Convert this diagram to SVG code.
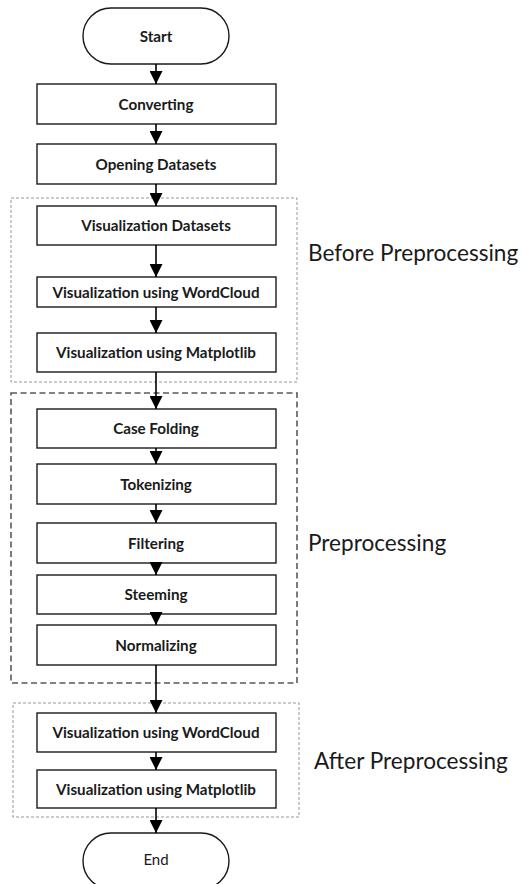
<svg xmlns="http://www.w3.org/2000/svg" width="522" height="884" viewBox="0 0 522 884">
  <style>
    .step { fill: #ffffff; stroke: #1a1a1a; stroke-width: 1.4; }
    .term { fill: #ffffff; stroke: #1a1a1a; stroke-width: 1.4; }
    .lbl { font-family: Lato, "Open Sans", "Liberation Sans", sans-serif; font-weight: bold; font-size: 15.2px; fill: #1a1a1a; text-anchor: middle; }
    .lbl-end { font-family: Lato, "Open Sans", "Liberation Sans", sans-serif; font-size: 15px; fill: #1a1a1a; text-anchor: middle; }
    .phase { font-family: Lato, "Open Sans", "Liberation Sans", sans-serif; font-size: 22.6px; fill: #1a1a1a; }
    .zone-thin { fill: none; stroke: #8a8a8a; stroke-width: 0.9; stroke-dasharray: 3 2; }
    .zone-bold { fill: none; stroke: #5a5a5a; stroke-width: 1.6; stroke-dasharray: 6 3.5; }
    .flow { fill: none; stroke: #000000; stroke-width: 1.6; marker-end: url(#head); }
  </style>
  <defs>
    <marker id="head" viewBox="0 0 13 13" refX="13" refY="6.5" markerWidth="13" markerHeight="13" markerUnits="userSpaceOnUse" orient="auto">
      <path d="M0,0 L13,6.5 L0,13 Z" fill="#000000"/>
    </marker>
  </defs>

  <!-- phase frames -->
  <g id="zones">
    <rect class="zone-thin" x="11" y="198" width="286" height="184"/>
    <rect class="zone-bold" x="11" y="393" width="286" height="290"/>
    <rect class="zone-thin" x="13" y="703" width="286" height="114"/>
  </g>

  <!-- phase captions -->
  <g id="captions">
    <text class="phase" x="308" y="261">Before Preprocessing</text>
    <text class="phase" x="308" y="551">Preprocessing</text>
    <text class="phase" x="314" y="769">After Preprocessing</text>
  </g>

  <!-- nodes -->
  <g id="start">
    <rect class="term" x="83" y="8" width="146" height="56" rx="28" ry="28"/>
    <text class="lbl" x="156" y="41.5">Start</text>
  </g>
  <g id="converting">
    <rect class="step" x="37" y="84" width="239" height="40"/>
    <text class="lbl" x="156" y="109.5">Converting</text>
  </g>
  <g id="opening">
    <rect class="step" x="37" y="144" width="239" height="40"/>
    <text class="lbl" x="156" y="169.5">Opening Datasets</text>
  </g>
  <g id="vis-datasets">
    <rect class="step" x="37" y="206" width="239" height="39"/>
    <text class="lbl" x="156" y="231">Visualization Datasets</text>
  </g>
  <g id="vis-wordcloud-1">
    <rect class="step" x="37" y="277" width="239" height="30"/>
    <text class="lbl" x="156" y="297.5">Visualization using WordCloud</text>
  </g>
  <g id="vis-matplotlib-1">
    <rect class="step" x="37" y="333" width="239" height="39"/>
    <text class="lbl" x="156" y="358">Visualization using Matplotlib</text>
  </g>
  <g id="case-folding">
    <rect class="step" x="37" y="409" width="239" height="39"/>
    <text class="lbl" x="156" y="434">Case Folding</text>
  </g>
  <g id="tokenizing">
    <rect class="step" x="37" y="464" width="239" height="40"/>
    <text class="lbl" x="156" y="489.5">Tokenizing</text>
  </g>
  <g id="filtering">
    <rect class="step" x="37" y="523" width="239" height="40"/>
    <text class="lbl" x="156" y="548.5">Filtering</text>
  </g>
  <g id="steeming">
    <rect class="step" x="37" y="575" width="239" height="39"/>
    <text class="lbl" x="156" y="600">Steeming</text>
  </g>
  <g id="normalizing">
    <rect class="step" x="37" y="625" width="239" height="40"/>
    <text class="lbl" x="156" y="650.5">Normalizing</text>
  </g>
  <g id="vis-wordcloud-2">
    <rect class="step" x="37" y="713" width="239" height="39"/>
    <text class="lbl" x="156" y="738">Visualization using WordCloud</text>
  </g>
  <g id="vis-matplotlib-2">
    <rect class="step" x="37" y="770" width="239" height="38"/>
    <text class="lbl" x="156" y="794.5">Visualization using Matplotlib</text>
  </g>
  <g id="end">
    <rect class="term" x="83" y="833" width="146" height="56" rx="28" ry="28"/>
    <text class="lbl-end" x="156" y="865">End</text>
  </g>

  <!-- connectors -->
  <g id="connectors">
    <line class="flow" x1="156" y1="64" x2="156" y2="84"/>
    <line class="flow" x1="156" y1="124" x2="156" y2="144"/>
    <line class="flow" x1="156" y1="184" x2="156" y2="206"/>
    <line class="flow" x1="156" y1="245" x2="156" y2="277"/>
    <line class="flow" x1="156" y1="307" x2="156" y2="333"/>
    <line class="flow" x1="156" y1="372" x2="156" y2="409"/>
    <line class="flow" x1="156" y1="448" x2="156" y2="464"/>
    <line class="flow" x1="156" y1="504" x2="156" y2="523"/>
    <line class="flow" x1="156" y1="563" x2="156" y2="575"/>
    <line class="flow" x1="156" y1="614" x2="156" y2="625"/>
    <line class="flow" x1="156" y1="665" x2="156" y2="713"/>
    <line class="flow" x1="156" y1="752" x2="156" y2="770"/>
    <line class="flow" x1="156" y1="808" x2="156" y2="833"/>
  </g>
</svg>
